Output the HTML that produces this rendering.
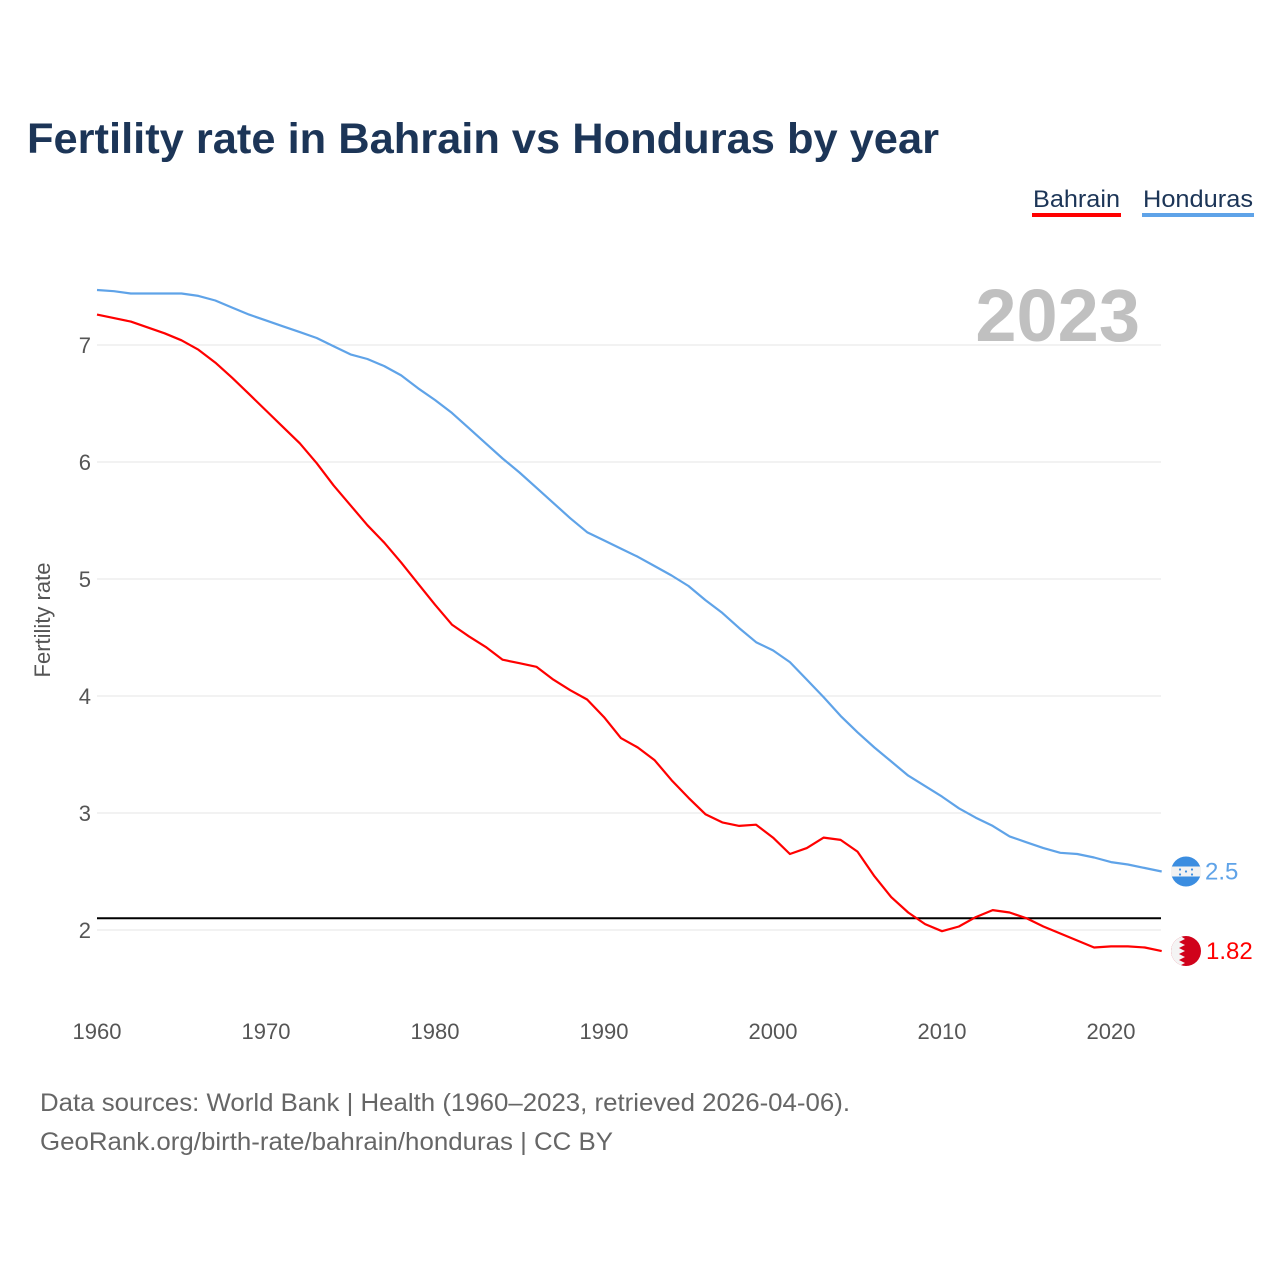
<!DOCTYPE html>
<html><head><meta charset="utf-8"><style>
body{margin:0;background:#fff;font-family:"Liberation Sans",sans-serif}
svg text{font-family:"Liberation Sans",sans-serif}
</style></head><body>
<svg id="chart" width="1280" height="1280" viewBox="0 0 1280 1280">
<rect width="1280" height="1280" fill="#fff"/>
<text x="27" y="153" font-size="43" font-weight="bold" fill="#1c3557" textLength="912" lengthAdjust="spacingAndGlyphs">Fertility rate in Bahrain vs Honduras by year</text>
<g>
<text x="1033" y="207" font-size="24" fill="#1c3557" textLength="87" lengthAdjust="spacingAndGlyphs">Bahrain</text>
<rect x="1032" y="213" width="89" height="4" fill="#ff0000"/>
<text x="1143" y="207" font-size="24" fill="#1c3557" textLength="110" lengthAdjust="spacingAndGlyphs">Honduras</text>
<rect x="1142" y="213" width="112" height="4" fill="#5fa3e8"/>
</g>
<text x="1140" y="341" font-size="74" font-weight="bold" fill="#c0c0c0" text-anchor="end">2023</text>
<g id="grid"></g>
<g id="yticks"></g>
<g id="xticks"></g>
<text transform="translate(50,620) rotate(-90)" font-size="22" fill="#555" text-anchor="middle">Fertility rate</text>
<g id="series"></g>
<g id="ends"></g>
<text x="40" y="1111" font-size="25" fill="#666" textLength="810" lengthAdjust="spacingAndGlyphs">Data sources: World Bank | Health (1960–2023, retrieved 2026-04-06).</text>
<text x="40" y="1150" font-size="25" fill="#666" textLength="573" lengthAdjust="spacingAndGlyphs">GeoRank.org/birth-rate/bahrain/honduras | CC BY</text>
</svg>
<script>
const startYear = 1960;
const bahrain = [7.26,7.23,7.20,7.15,7.10,7.04,6.96,6.85,6.72,6.58,6.44,6.30,6.16,5.99,5.80,5.63,5.46,5.31,5.14,4.96,4.78,4.61,4.51,4.42,4.31,4.28,4.25,4.14,4.05,3.97,3.82,3.64,3.56,3.45,3.28,3.13,2.99,2.92,2.89,2.90,2.79,2.65,2.70,2.79,2.77,2.67,2.46,2.28,2.15,2.05,1.99,2.03,2.11,2.17,2.15,2.10,2.03,1.97,1.91,1.85,1.86,1.86,1.85,1.82];
const honduras = [7.47,7.46,7.44,7.44,7.44,7.44,7.42,7.38,7.32,7.26,7.21,7.16,7.11,7.06,6.99,6.92,6.88,6.82,6.74,6.63,6.53,6.42,6.29,6.16,6.03,5.91,5.78,5.65,5.52,5.40,5.33,5.26,5.19,5.11,5.03,4.94,4.82,4.71,4.58,4.46,4.39,4.29,4.14,3.99,3.83,3.69,3.56,3.44,3.32,3.23,3.14,3.04,2.96,2.89,2.80,2.75,2.70,2.66,2.65,2.62,2.58,2.56,2.53,2.50];
const yTicks = [2,3,4,5,6,7];
const xTicks = [1960,1970,1980,1990,2000,2010,2020];
const refLevel = 2.1;

const NS="http://www.w3.org/2000/svg";
const X = yr => 97 + (yr-1960)*(1014/60);
const Y = v => 930 - (v-2)*117;
function mk(tag, attrs, parent){const e=document.createElementNS(NS,tag);for(const k in attrs)e.setAttribute(k,attrs[k]);parent.appendChild(e);return e;}
const grid=document.getElementById('grid'), yt=document.getElementById('yticks'), xt=document.getElementById('xticks'), ser=document.getElementById('series'), ends=document.getElementById('ends');
yTicks.forEach(v=>{
  const l=mk('line',{x1:97,x2:1161,y1:Y(v),y2:Y(v),stroke:'#e4e4e4','stroke-width':1},grid);
  
  
  const t=mk('text',{x:91,y:Y(v)+8,'font-size':22,fill:'#555','text-anchor':'end'},yt);
  t.textContent=v;
  
  
});
xTicks.forEach(yr=>{
  const t=mk('text',{x:X(yr),y:1039,'font-size':22,fill:'#555','text-anchor':'middle'},xt);
  t.textContent=yr;
  
  
});
const ref=mk('line',{x1:97,x2:1161,y1:Y(refLevel),y2:Y(refLevel),stroke:'#000','stroke-width':2},grid);


function path(vals,color,name){
  const d=vals.map((v,i)=>(i?'L':'M')+X(startYear+i).toFixed(1)+','+Y(v).toFixed(1)).join('');
  const p=mk('path',{d:d,fill:'none',stroke:color,'stroke-width':2.2,'stroke-linejoin':'round'},ser);
  
  
}
path(honduras,'#5fa3e8','honduras-line');
path(bahrain,'#ff0000','bahrain-line');
const hy=Y(honduras[honduras.length-1]), by=Y(bahrain[bahrain.length-1]);
const cx=1186;
const hf=mk('g',{},ends);


mk('circle',{cx:cx,cy:hy,r:15,fill:'#3b8de0'},hf);
mk('rect',{x:cx-15,y:hy-5,width:30,height:10,fill:'#f2f2f2'},hf);
[[-6,-2],[6,-2],[0,0],[-6,3],[6,3]].forEach(p=>mk('circle',{cx:cx+p[0],cy:hy+p[1],r:1.1,fill:'#3b8de0'},hf));
const ht=mk('text',{x:1205,y:hy+8,'font-size':24,fill:'#5fa3e8'},ends);
ht.textContent=honduras[honduras.length-1].toString();


const bf=mk('g',{},ends);


const clip=mk('clipPath',{id:'bc'},bf);
mk('circle',{cx:cx,cy:by,r:15},clip);
mk('circle',{cx:cx,cy:by,r:15,fill:'#d0021b'},bf);
let pts=[[cx-16,by-16],[cx-7,by-16]];
for(let i=0;i<5;i++){const y0=by-15+i*6;pts.push([cx-1,y0+3],[cx-7,y0+6]);}
pts.push([cx-7,by+16],[cx-16,by+16]);
mk('polygon',{points:pts.map(p=>p.join(',')).join(' '),fill:'#f4f4f4','clip-path':'url(#bc)'},bf);
const bt=mk('text',{x:1206,y:by+8,'font-size':24,fill:'#ff0000'},ends);
bt.textContent=bahrain[bahrain.length-1].toString();


</script>
</body></html>
